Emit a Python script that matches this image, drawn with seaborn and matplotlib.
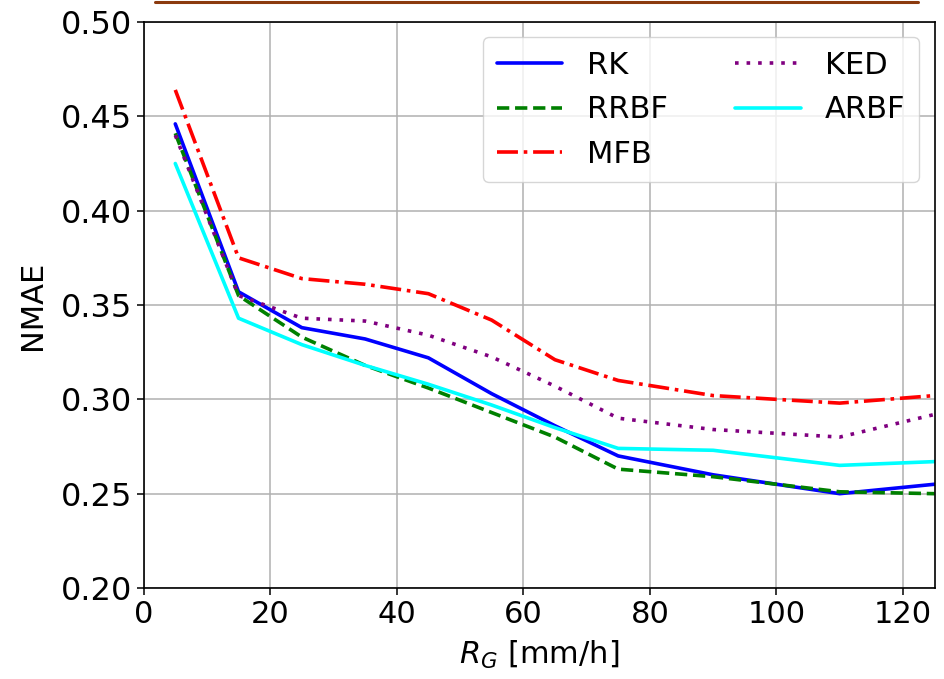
import numpy as np
import pandas as pd
import matplotlib
matplotlib.use("Agg")
import matplotlib.pyplot as plt
from matplotlib.lines import Line2D
import seaborn as sns

# Gauge rain-rate classes (mm/h) and NMAE of each merging method
rain_rate = [5, 15, 25, 35, 45, 55, 65, 75, 90, 110, 125]
nmae_rk = [0.446, 0.357, 0.338, 0.332, 0.322, 0.303, 0.286, 0.270, 0.260, 0.250, 0.255]
nmae_rrbf = [0.441, 0.355, 0.333, 0.318, 0.306, 0.293, 0.280, 0.263, 0.259, 0.251, 0.250]
nmae_mfb = [0.464, 0.375, 0.364, 0.361, 0.356, 0.342, 0.321, 0.310, 0.302, 0.298, 0.302]
nmae_ked = [0.440, 0.355, 0.343, 0.3415, 0.334, 0.3225, 0.307, 0.290, 0.284, 0.280, 0.292]
nmae_arbf = [0.425, 0.343, 0.329, 0.318, 0.308, 0.297, 0.285, 0.274, 0.273, 0.265, 0.267]

methods = ["RK", "RRBF", "MFB", "KED", "ARBF"]
series = [nmae_rk, nmae_rrbf, nmae_mfb, nmae_ked, nmae_arbf]
colors = ["blue", "green", "red", "purple", "cyan"]
styles = ["-", (0, (3.4, 1.6)), (0, (5.8, 1.6, 1, 1.6)), (0, (1, 2.2)), "-"]

df = pd.DataFrame({
    "R_G": np.tile(rain_rate, len(methods)),
    "NMAE": np.concatenate(series),
    "method": np.repeat(methods, len(rain_rate)),
})

sns.set_theme(style="ticks")
plt.rcParams["font.family"] = ["DejaVu Sans"]
for key in ["text.color", "axes.labelcolor", "xtick.color", "ytick.color"]:
    plt.rcParams[key] = "black"

fig = plt.figure(figsize=(9.45, 6.79), dpi=100)
ax = fig.add_axes([0.152, 0.134, 0.837, 0.8336])

for m, c, ls in zip(methods, colors, styles):
    sns.lineplot(data=df[df["method"] == m], x="R_G", y="NMAE", ax=ax,
                 color=c, linestyle=ls, linewidth=2.6, label=m)

ax.set_xlim(0, 125)
ax.set_ylim(0.20, 0.50)
ax.set_xticks([0, 20, 40, 60, 80, 100, 120])
ax.set_yticks([0.20, 0.25, 0.30, 0.35, 0.40, 0.45, 0.50])
ax.set_yticklabels([f"{v:.2f}" for v in ax.get_yticks()])
ax.grid(True, color="#b0b0b0", linewidth=1.1)
for s in ax.spines.values():
    s.set_color("black")
    s.set_linewidth(1.2)
ax.tick_params(axis="both", length=5, width=1.1, color="black")
ax.tick_params(axis="y", labelsize=23)
ax.tick_params(axis="x", labelsize=22)

ax.set_xlabel("$R_G$ [mm/h]", fontsize=22, labelpad=7)
ax.set_ylabel("NMAE", fontsize=22, labelpad=10)

ax.legend(loc="upper right", ncol=2, fontsize=22, framealpha=0.8,
          handlelength=2.15, handletextpad=0.8, columnspacing=2.2,
          borderpad=0.45, labelspacing=0.5,
          edgecolor="#cccccc", fancybox=True)

# thin rule along the top edge
fig.add_artist(Line2D([155 / 945, 918 / 945], [1 - 2 / 679] * 2,
                      color="#8b3a0e", linewidth=2.2))

fig.savefig("out.png", dpi=100)
